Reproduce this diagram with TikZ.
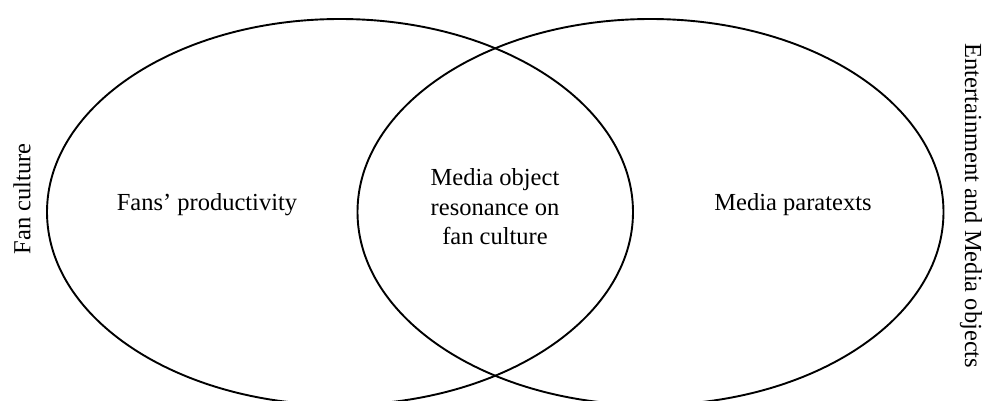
\documentclass[tikz,border=0pt]{standalone}
\usepackage{fontspec}
\setmainfont{Liberation Serif}
\usetikzlibrary{shapes.geometric,positioning}

\tikzset{
    set/.style={draw, ellipse, line width=1.9pt, minimum width=586pt, minimum height=386pt, inner sep=0pt},
    txt/.style={font=\fontsize{24.5}{29.5}\selectfont, align=center, inner sep=0pt},
}

\begin{document}
\begin{tikzpicture}[x=1pt, y=-1pt]
    \clip (0,0) rectangle (986,400);
    \useasboundingbox (0,0) rectangle (986,400);

    \node [set] (fan) at (340,212) {};
    \node [set] (media) at (650.5,212) {};

    \node [txt] (prod) at (207,205) {Fans’ productivity};
    \node [txt] (reso) at (495,207) {Media object\\resonance on\\fan culture};
    \node [txt] (para) at (793,205) {Media paratexts};

    \node [txt, rotate=90] (fanlbl) at (22,199) {Fan culture};
    \node [txt, rotate=-90] (medialbl) at (971,206) {Entertainment and Media objects};
\end{tikzpicture}
\end{document}
